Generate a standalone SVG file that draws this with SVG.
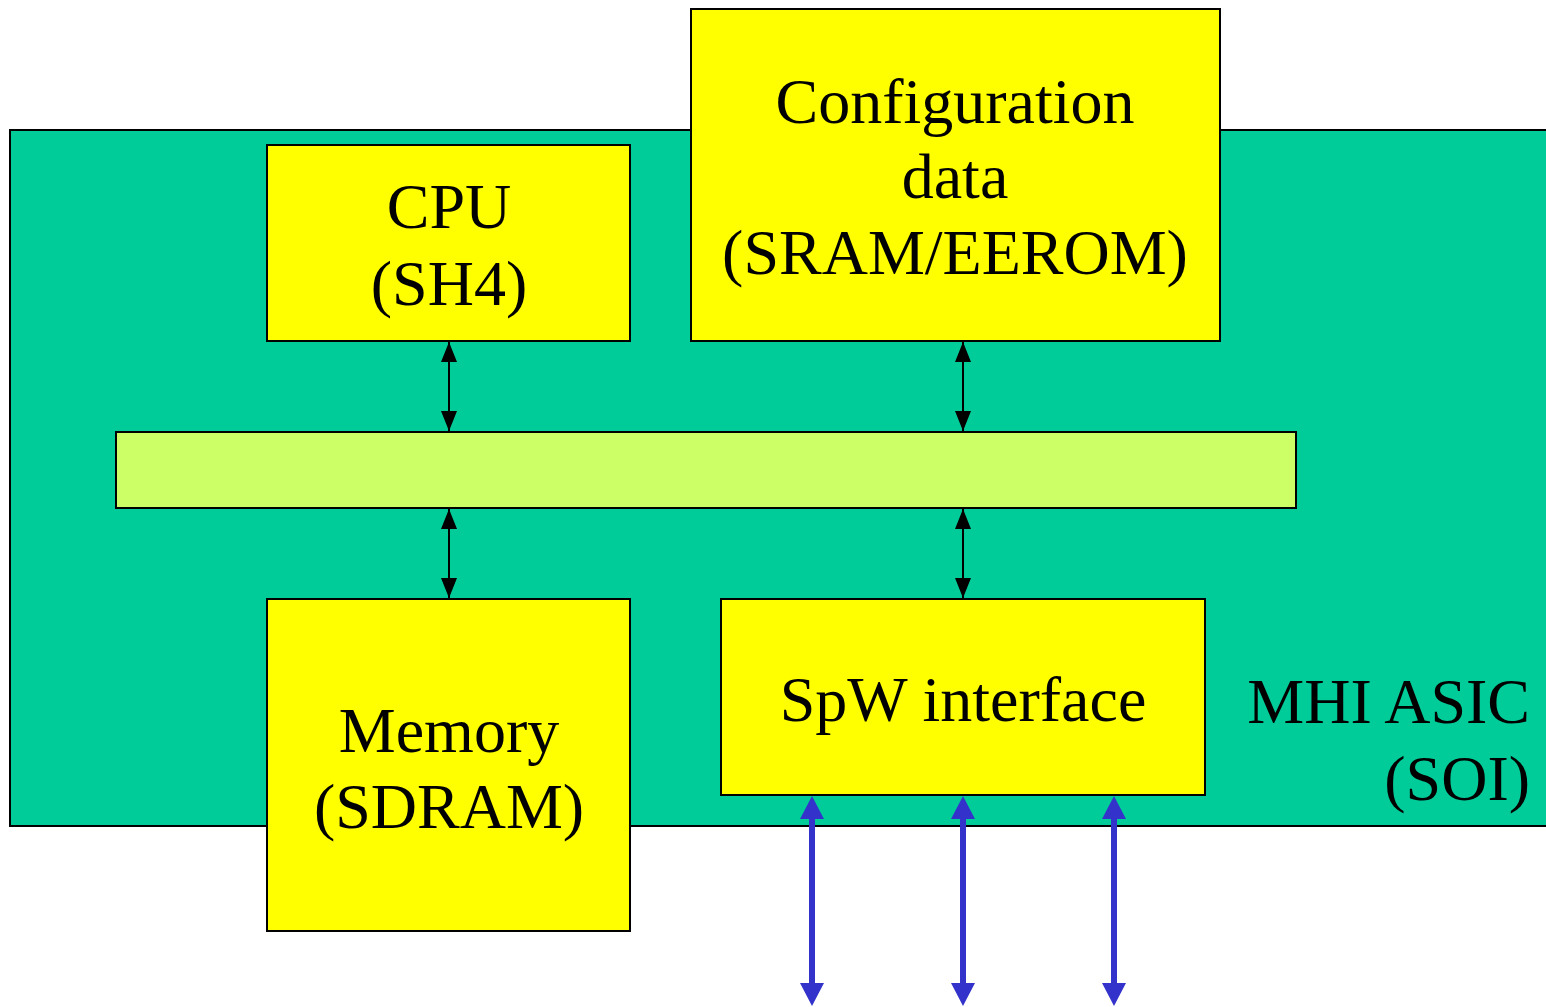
<svg xmlns="http://www.w3.org/2000/svg" width="1546" height="1007" viewBox="0 0 1546 1007">
<style>
.box{fill:#FFFF00;stroke:#000;stroke-width:2}
.t{font-family:"Liberation Serif","Times New Roman",serif;font-size:64px;fill:#000;text-anchor:middle}
.blk{stroke:#000;stroke-width:2;fill:none}
.blu{fill:#3333CC;stroke:none}
</style>
<defs>
<marker id="ak" viewBox="0 0 20 16" refX="20" refY="8" markerWidth="20" markerHeight="16" markerUnits="userSpaceOnUse" orient="auto-start-reverse">
<path d="M0,0 L20,8 L0,16 Z" fill="#000"/>
</marker>
<path id="barrow" d="M0,0 L12,23 L3,23 L3,187 L12,187 L0,210 L-12,187 L-3,187 L-3,23 L-12,23 Z"/>
</defs>
<g id="asic">
<rect x="10" y="130" width="1546" height="696" fill="#00CC99" stroke="#000" stroke-width="2"/>
<text class="t" x="1530" y="723" style="text-anchor:end">MHI ASIC</text>
<text class="t" x="1530" y="800" style="text-anchor:end">(SOI)</text>
</g>
<g id="cpu">
<rect class="box" x="267" y="145" width="363" height="196"/>
<text class="t" x="449" y="228">CPU</text>
<text class="t" x="449" y="305">(SH4)</text>
</g>
<g id="config">
<rect class="box" x="691" y="9" width="529" height="332"/>
<text class="t" x="955" y="123">Configuration</text>
<text class="t" x="955" y="198">data</text>
<text class="t" x="955" y="274">(SRAM/EEROM)</text>
</g>
<g id="bus">
<rect x="116" y="432" width="1180" height="76" fill="#CCFF66" stroke="#000" stroke-width="2"/>
</g>
<g id="memory">
<rect class="box" x="267" y="599" width="363" height="332"/>
<text class="t" x="449" y="752">Memory</text>
<text class="t" x="449" y="828">(SDRAM)</text>
</g>
<g id="spw">
<rect class="box" x="721" y="599" width="484" height="196"/>
<text class="t" x="963" y="721">SpW interface</text>
</g>
<g id="connectors">
<line class="blk" x1="449" y1="342" x2="449" y2="431" marker-start="url(#ak)" marker-end="url(#ak)"/>
<line class="blk" x1="963" y1="342" x2="963" y2="431" marker-start="url(#ak)" marker-end="url(#ak)"/>
<line class="blk" x1="449" y1="509" x2="449" y2="598" marker-start="url(#ak)" marker-end="url(#ak)"/>
<line class="blk" x1="963" y1="509" x2="963" y2="598" marker-start="url(#ak)" marker-end="url(#ak)"/>
<use href="#barrow" class="blu" x="812" y="796"/>
<use href="#barrow" class="blu" x="963" y="796"/>
<use href="#barrow" class="blu" x="1114" y="796"/>
</g>
</svg>
